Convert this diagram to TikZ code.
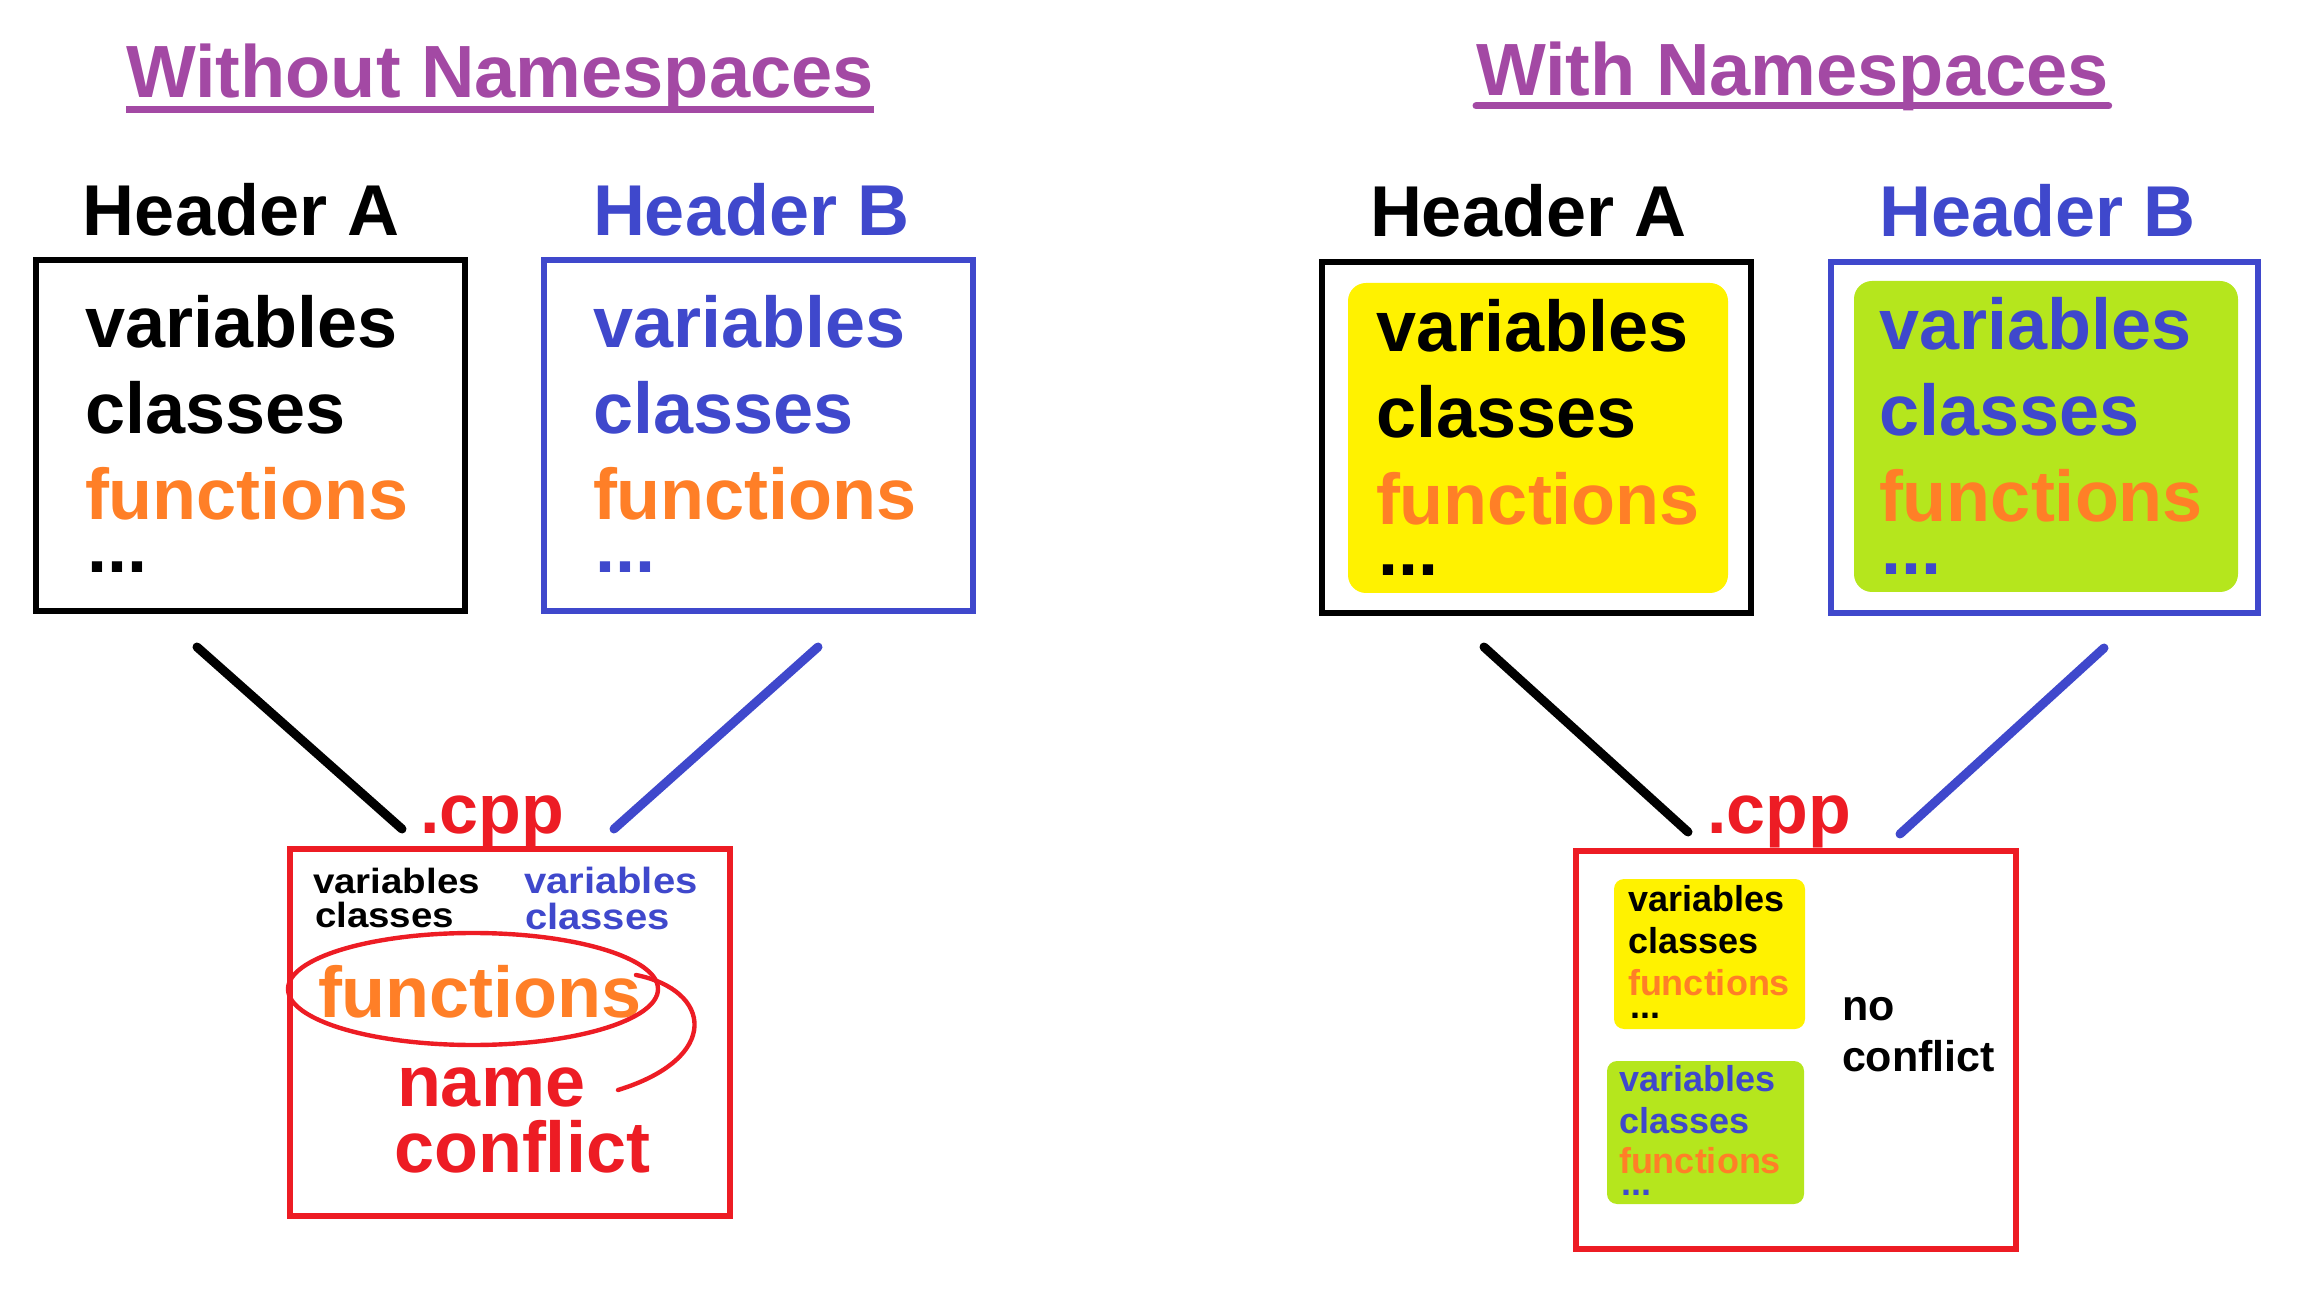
\documentclass[tikz,border=0pt]{standalone}
\usepackage{fontspec}
\setmainfont{Liberation Sans}
\newfontfamily\widesans[FakeStretch=1.1]{Liberation Sans}
\usetikzlibrary{fit}
\definecolor{purp}{HTML}{A349A4}
\definecolor{bl}{HTML}{3F48CC}
\definecolor{orng}{HTML}{FF7F27}
\definecolor{rd}{HTML}{ED1C24}
\definecolor{yel}{HTML}{FFF200}
\definecolor{grn}{HTML}{B5E61D}
\begin{document}
\begin{tikzpicture}[x=0.5pt,y=-0.5pt,
  txt/.style={anchor=base west, inner sep=0pt, outer sep=0pt},
  ttl/.style={txt, purp, font=\fontsize{37}{40}\selectfont\bfseries},
  big/.style={txt, font=\fontsize{36}{40}\selectfont\bfseries},
  cpplbl/.style={txt, rd, font=\fontsize{35}{40}\selectfont\bfseries},
  smallA/.style={txt, font=\widesans\fontsize{17.5}{22}\selectfont\bfseries},
  smallB/.style={txt, font=\widesans\fontsize{18.2}{22}\selectfont\bfseries},
  tiny/.style={txt, font=\fontsize{18}{20}\selectfont\bfseries},
  mid/.style={txt, font=\fontsize{21.5}{24}\selectfont\bfseries},
  frame/.style={inner sep=0pt, outer sep=0pt, line width=3pt},
  filled/.style={inner sep=0pt, outer sep=0pt, rounded corners=9pt},
  conn/.style={line width=4.5pt, line cap=round},
  uline/.style={purp, line width=3.5pt}
]
\useasboundingbox (0,0) rectangle (2320,1304);

% ---------------- Left: Without Namespaces ----------------
\node[ttl] (t1) at (126,98) {Without Namespaces};
\draw[uline] ([yshift=-6pt]t1.base west) -- ([yshift=-6pt]t1.base east);

\node[big] (hA1) at (83,236) {Header A};
\node[big, bl] (hB1) at (593,236) {Header B};

\node[frame, draw=black, fit={(36,260) (465,611)}] (boxA1) {};
\node[frame, draw=bl, fit={(544,260) (973,611)}] (boxB1) {};

\node[big] (a1v) at (85,348) {variables};
\node[big] (a1c) at (85,434) {classes};
\node[big, orng] (a1f) at (85,520) {functions};
\node[big] (a1d) at (87,573) {...};

\node[big, bl] (b1v) at (593,348) {variables};
\node[big, bl] (b1c) at (593,434) {classes};
\node[big, orng] (b1f) at (593,520) {functions};
\node[big, bl] (b1d) at (595,573) {...};

\node[cpplbl] (cpp1) at (420,834) {.cpp};
\coordinate (la1s) at (197,647);
\coordinate (la1e) at (402,829);
\coordinate (lb1s) at (818,647);
\coordinate (lb1e) at (614,829);
\draw[conn, black] (la1s) -- (la1e);
\draw[conn, bl] (lb1s) -- (lb1e);

\node[frame, draw=rd, fit={(290,849) (730,1216)}] (cppbox1) {};
\node[smallA] (c1av) at (313,893) {variables};
\node[smallA] (c1ac) at (315,928) {classes};
\node[smallB, bl] (c1bv) at (524,893) {variables};
\node[smallB, bl] (c1bc) at (525,929) {classes};
\node[big, orng] (c1f) at (318,1017) {functions};
\node[big, rd] (c1n) at (397,1106) {name};
\node[big, rd] (c1c) at (394,1172) {conflict};
\draw[rd, line width=2.2pt] (473,989) ellipse [x radius=185, y radius=56];
\draw[rd, line width=2.2pt, line cap=round] (636,975) .. controls (712,990) and (722,1058) .. (618,1090);

% ---------------- Right: With Namespaces ----------------
\node[ttl] (t2) at (1476,96) {With Namespaces};
\draw[uline, line cap=round] ([yshift=-5pt]t2.base west) -- ([yshift=-5pt]t2.base east);

\node[big] (hA2) at (1370,237) {Header A};
\node[big, bl] (hB2) at (1879,237) {Header B};

\node[frame, draw=black, fit={(1322,262) (1751,613)}] (boxA2) {};
\node[frame, draw=bl, fit={(1831,262) (2258,613)}] (boxB2) {};
\node[filled, fill=yel, fit={(1348,283) (1728,593)}] (yA2) {};
\node[filled, fill=grn, fit={(1854,281) (2238,592)}] (gB2) {};

\node[big] (a2v) at (1376,352) {variables};
\node[big] (a2c) at (1376,438) {classes};
\node[big, orng] (a2f) at (1376,525) {functions};
\node[big] (a2d) at (1378,576) {...};

\node[big, bl] (b2v) at (1879,350) {variables};
\node[big, bl] (b2c) at (1879,436) {classes};
\node[big, orng] (b2f) at (1879,522) {functions};
\node[big, bl] (b2d) at (1881,575) {...};

\node[cpplbl] (cpp2) at (1707,834) {.cpp};
\coordinate (la2s) at (1484,647);
\coordinate (la2e) at (1688,832);
\coordinate (lb2s) at (2104,648);
\coordinate (lb2e) at (1900,834);
\draw[conn, black] (la2s) -- (la2e);
\draw[conn, bl] (lb2s) -- (lb2e);

\node[frame, draw=rd, fit={(1576,851) (2016,1249)}] (cppbox2) {};
\node[inner sep=0pt, rounded corners=5pt, fill=yel, fit={(1614,879) (1805,1029)}] (ys) {};
\node[inner sep=0pt, rounded corners=5pt, fill=grn, fit={(1607,1061) (1804,1204)}] (gs) {};

\node[tiny] (ysv) at (1628,911) {variables};
\node[tiny] (ysc) at (1628,953) {classes};
\node[tiny, orng] (ysf) at (1628,995) {functions};
\node[tiny] (ysd) at (1630,1018) {...};

\node[tiny, bl] (gsv) at (1619,1091) {variables};
\node[tiny, bl] (gsc) at (1619,1133) {classes};
\node[tiny, orng] (gsf) at (1619,1173) {functions};
\node[tiny, bl] (gsd) at (1621,1195) {...};

\node[mid] (no) at (1842,1020) {no};
\node[mid] (nc) at (1842,1071) {conflict};
\end{tikzpicture}
\end{document}
